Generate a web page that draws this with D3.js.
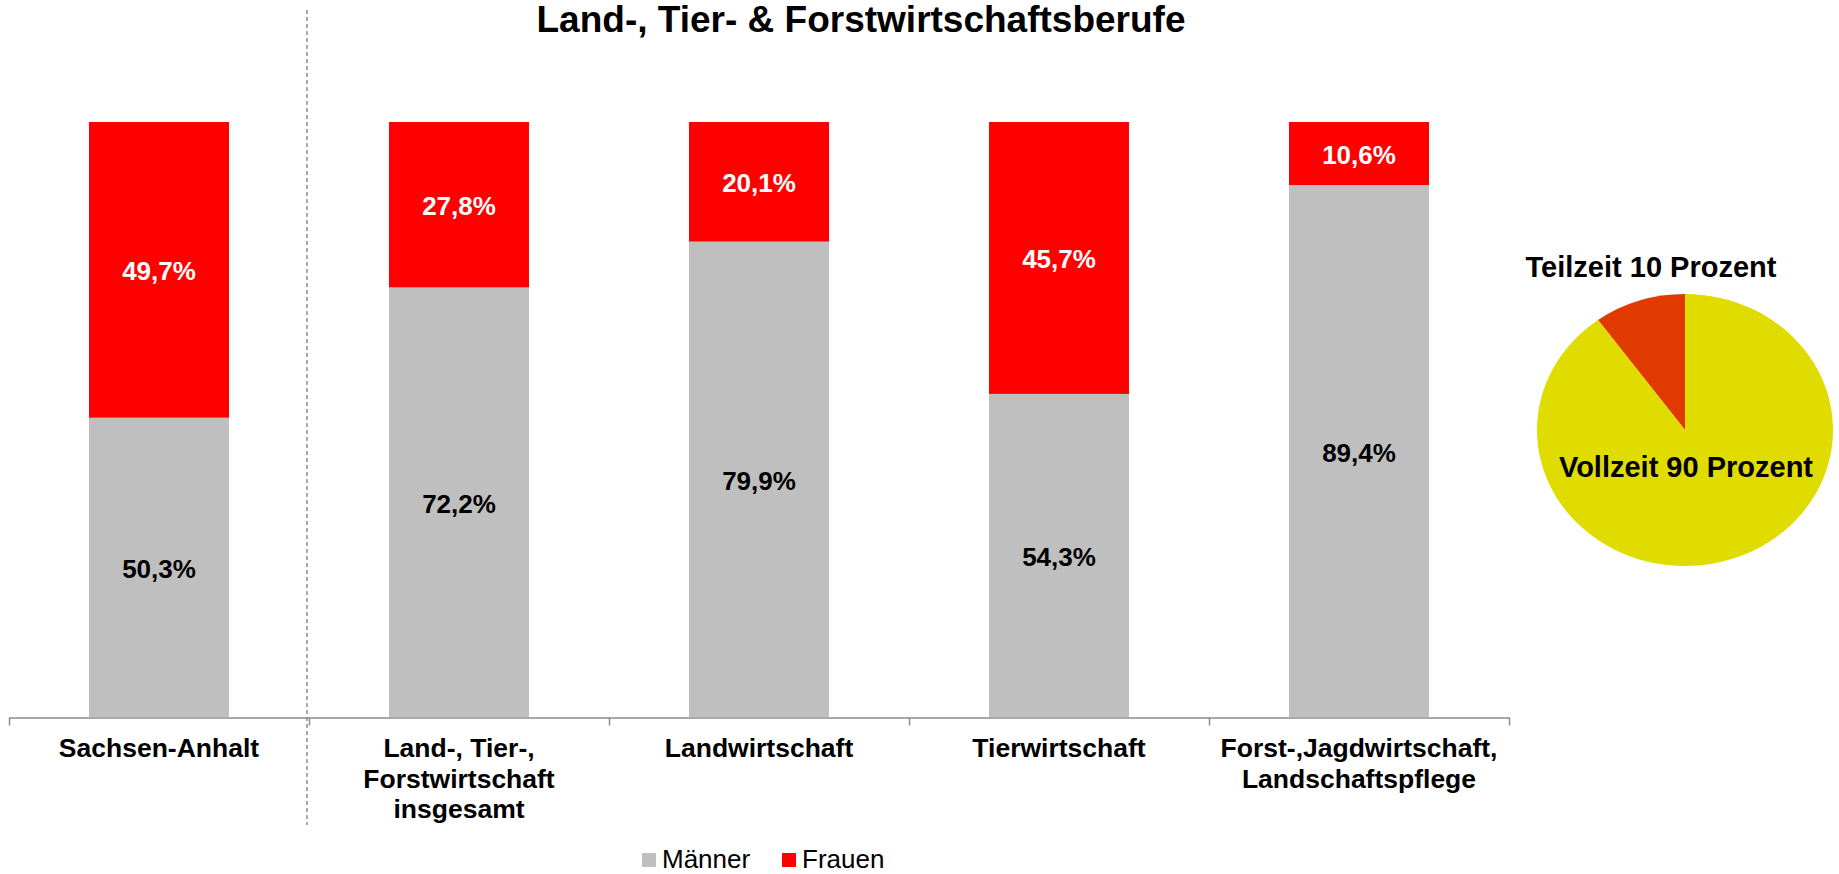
<!DOCTYPE html>
<html>
<head>
<meta charset="utf-8">
<script src="https://cdn.jsdelivr.net/npm/d3@7"></script>
<style>
  html, body { margin: 0; padding: 0; background: #fff; }
  svg { display: block; }
  text { font-family: "Liberation Sans", Arial, sans-serif; }
</style>
</head>
<body>
<svg id="chart" width="1839" height="874"></svg>
<script>
// ---- data ----
const categories = [
  "Sachsen-Anhalt",
  "Land-, Tier-, Forstwirtschaft insgesamt",
  "Landwirtschaft",
  "Tierwirtschaft",
  "Forst-,Jagdwirtschaft, Landschaftspflege"
];
const categoryLines = [
  ["Sachsen-Anhalt"],
  ["Land-, Tier-,", "Forstwirtschaft", "insgesamt"],
  ["Landwirtschaft"],
  ["Tierwirtschaft"],
  ["Forst-,Jagdwirtschaft,", "Landschaftspflege"]
];
const maenner = [50.3, 72.2, 79.9, 54.3, 89.4];
const frauen  = [49.7, 27.8, 20.1, 45.7, 10.6];
const seriesNames = ["Männer", "Frauen"];
const title = "Land-, Tier- & Forstwirtschaftsberufe";
const pieNames  = ["Teilzeit", "Vollzeit"];
const pieValues = [10, 90];
const pieLabelText = ["Teilzeit 10 Prozent", "Vollzeit 90 Prozent"];

// ---- setup ----
const svg = d3.select("#chart");
const colGrey = "#BFBFBF", colRed = "#FF0000";
const fmt = v => v.toFixed(1).replace(".", ",") + "%";

const x = d3.scaleBand().domain(categories).range([9, 1509])
  .paddingInner(160 / 300).paddingOuter(80 / 300);
const y = d3.scaleLinear().domain([0, 100]).range([717, 122]);

// title
svg.append("text").attr("x", 861).attr("y", 32)
  .attr("text-anchor", "middle").attr("font-weight", "bold")
  .attr("font-size", 37).attr("fill", "#000").text(title);

// stacked data
const rows = categories.map((c, i) => ({ cat: c, m: maenner[i], f: frauen[i] }));

const g = svg.append("g");
// Männer segments
g.selectAll("rect.m").data(rows).join("rect").attr("class", "m")
  .attr("x", d => x(d.cat)).attr("width", x.bandwidth())
  .attr("y", d => y(d.m)).attr("height", d => y(0) - y(d.m))
  .attr("fill", colGrey);
// Frauen segments
g.selectAll("rect.f").data(rows).join("rect").attr("class", "f")
  .attr("x", d => x(d.cat)).attr("width", x.bandwidth())
  .attr("y", d => y(d.m + d.f)).attr("height", d => y(d.m) - y(d.m + d.f))
  .attr("fill", colRed);

// value labels
g.selectAll("text.lm").data(rows).join("text").attr("class", "lm")
  .attr("x", d => x(d.cat) + x.bandwidth() / 2)
  .attr("y", d => (y(0) + y(d.m)) / 2 + 10.5)
  .attr("text-anchor", "middle").attr("font-weight", "bold").attr("font-size", 26)
  .attr("fill", "#000").text(d => fmt(d.m));
g.selectAll("text.lf").data(rows).join("text").attr("class", "lf")
  .attr("x", d => x(d.cat) + x.bandwidth() / 2)
  .attr("y", d => (y(d.m) + y(d.m + d.f)) / 2 + 10.5)
  .attr("text-anchor", "middle").attr("font-weight", "bold").attr("font-size", 26)
  .attr("fill", "#fff").text(d => fmt(d.f));

// axis with ticks at category boundaries
const xb = d3.scaleLinear().domain([0, categories.length]).range([9, 1509]);
const axis = svg.append("g").attr("transform", "translate(0,717.5)")
  .call(d3.axisBottom(xb).tickValues(d3.range(0, categories.length + 1))
    .tickSize(8).tickSizeOuter(0).tickFormat(""));
axis.selectAll("path, line").attr("stroke", "#8C8C8C").attr("stroke-width", 1.5);

// category labels
const cl = svg.append("g").selectAll("text").data(categories).join("text")
  .attr("x", d => x(d) + x.bandwidth() / 2).attr("y", 757)
  .attr("text-anchor", "middle").attr("font-weight", "bold").attr("font-size", 26.5)
  .attr("fill", "#000");
cl.each(function (d, i) {
  const t = d3.select(this);
  categoryLines[i].forEach((ln, k) => {
    t.append("tspan").attr("x", x(d) + x.bandwidth() / 2)
      .attr("dy", k === 0 ? 0 : 30.5).text(ln);
  });
});

// dashed separator
const sepX = (x(categories[0]) + x.bandwidth() + x(categories[1])) / 2 - 2;
svg.append("line").attr("x1", sepX).attr("x2", sepX).attr("y1", 10).attr("y2", 825)
  .attr("stroke", "#8C8C8C").attr("stroke-width", 1.5).attr("stroke-dasharray", "4,3");

// legend
const legX = [642, 782];
const legCol = [colGrey, colRed];
const leg = svg.append("g").selectAll("g").data(seriesNames).join("g")
  .attr("transform", (d, i) => `translate(${legX[i]},853)`);
leg.append("rect").attr("width", 14).attr("height", 14).attr("fill", (d, i) => legCol[i]);
leg.append("text").attr("x", 20).attr("y", 14.5).attr("font-size", 26)
  .attr("fill", "#000").text(d => d);

// pie (elliptical)
const cx = 1685, cy = 430, rx = 148, ry = 136;
const pie = d3.pie().sort(null).value(d => d)(pieValues);
const arc = d3.arc().innerRadius(0).outerRadius(ry);
const pieCol = ["#E03A00", "#E0DC00"];
const pg = svg.append("g").attr("transform", `translate(${cx},${cy}) scale(${rx / ry},1)`);
// rotate so that Teilzeit ends at 12 o'clock (counter-clockwise from top)
const offset = -2 * Math.PI * pieValues[0] / d3.sum(pieValues);
pg.selectAll("path").data(pie).join("path")
  .attr("d", d => arc({ ...d, startAngle: d.startAngle + offset, endAngle: d.endAngle + offset }))
  .attr("fill", (d, i) => pieCol[i]);
svg.append("text").attr("x", 1651).attr("y", 277).attr("text-anchor", "middle")
  .attr("font-weight", "bold").attr("font-size", 29).attr("fill", "#000").text(pieLabelText[0]);
svg.append("text").attr("x", 1686).attr("y", 477).attr("text-anchor", "middle")
  .attr("font-weight", "bold").attr("font-size", 29).attr("fill", "#000").text(pieLabelText[1]);
</script>
</body>
</html>
